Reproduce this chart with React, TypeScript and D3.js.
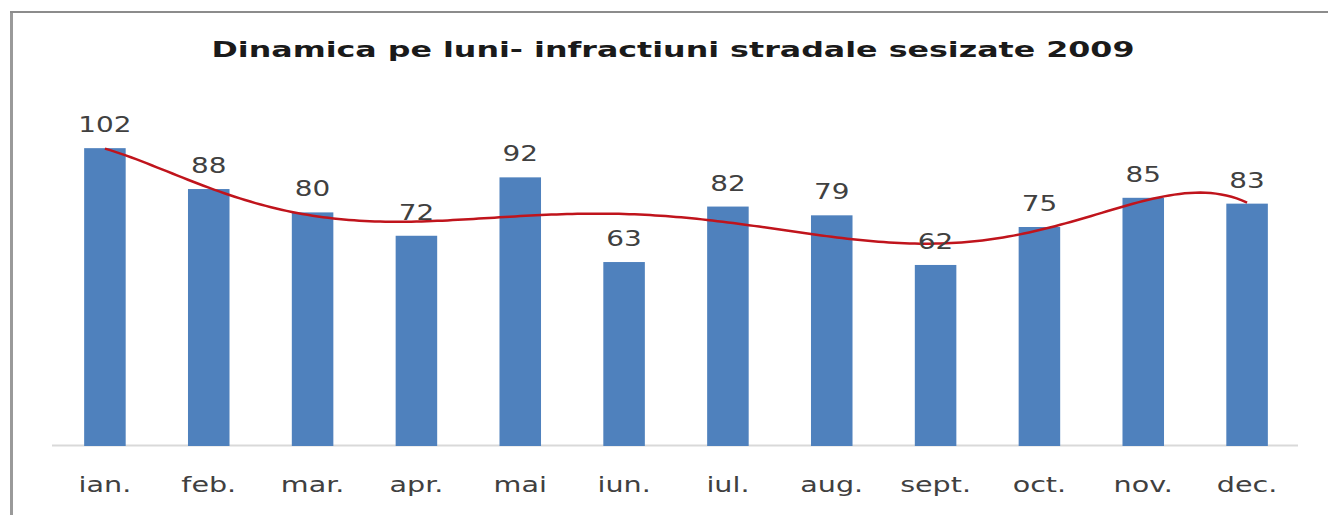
import React from "react";
import * as d3 from "d3";

const months = ["ian.", "feb.", "mar.", "apr.", "mai", "iun.", "iul.", "aug.", "sept.", "oct.", "nov.", "dec."];
const values = [102, 88, 80, 72, 92, 63, 82, 79, 62, 75, 85, 83];
const title = "Dinamica pe luni- infractiuni stradale sesizate 2009";
const trendOrder = 6;

const W = 1328;
const H = 515;

function polyfit(xs: number[], ys: number[], order: number) {
  const n = order + 1;
  const A: number[][] = Array.from({ length: n }, () => new Array(n + 1).fill(0));
  xs.forEach((x, k) => {
    const pw: number[] = [];
    for (let i = 0; i < 2 * n; i++) pw.push(Math.pow(x, i));
    for (let i = 0; i < n; i++) {
      for (let j = 0; j < n; j++) A[i][j] += pw[i + j];
      A[i][n] += pw[i] * ys[k];
    }
  });
  for (let c = 0; c < n; c++) {
    let p = c;
    for (let r = c + 1; r < n; r++) if (Math.abs(A[r][c]) > Math.abs(A[p][c])) p = r;
    [A[c], A[p]] = [A[p], A[c]];
    for (let r = 0; r < n; r++) {
      if (r === c) continue;
      const f = A[r][c] / A[c][c];
      for (let k = c; k <= n; k++) A[r][k] -= f * A[c][k];
    }
  }
  return A.map((row, i) => row[n] / row[i]);
}

export default function App() {
  const x = d3.scaleBand<string>().domain(months).range([53, 1299]).paddingInner(0.6).paddingOuter(0.3);
  const y = d3.scaleLinear().domain([0, 120]).range([446, 95.6]);
  const step = x.step();
  const c0 = (x(months[0]) as number) + x.bandwidth() / 2;

  // Excel-style polynomial trendline computed from the data
  const norm = (i: number) => (i - 6.5) / 5.5;
  const coef = polyfit(values.map((_, i) => norm(i + 1)), values, trendOrder);
  const evalP = (t: number) => coef.reduce((s, c, i) => s + c * Math.pow(t, i), 0);
  const samples = d3.range(1, 12.0001, 0.05);
  const line = d3
    .line<number>()
    .x((i) => c0 + (i - 1) * step)
    .y((i) => y(evalP(norm(i))))
    .curve(d3.curveLinear);

  const sx = 1.36;
  const font = "DejaVu Sans, Verdana, sans-serif";

  return (
    <svg width={W} height={H} style={{ position: "absolute", left: 0, top: 0, background: "#fff" }}>
      <line x1={11.5} x2={11.5} y1={11} y2={H} stroke="#9a9a9a" strokeWidth={3} />
      <line x1={10} x2={W} y1={12} y2={12} stroke="#8c8c8c" strokeWidth={2} />
      <text
        x={673}
        y={57}
        textAnchor="middle"
        fontFamily={font}
        fontWeight="bold"
        fontSize={21}
        fill="#1a1a1a"
        textLength={923}
        lengthAdjust="spacingAndGlyphs"
      >
        {title}
      </text>
      <line x1={52} x2={1298} y1={445.5} y2={445.5} stroke="#d9d9d9" strokeWidth={2} />
      {values.map((v, i) => (
        <rect
          key={months[i]}
          x={x(months[i])}
          y={y(v)}
          width={x.bandwidth()}
          height={y(0) - y(v)}
          fill="#4f81bd"
        />
      ))}
      <path d={line(samples) || ""} fill="none" stroke="#c0141c" strokeWidth={2.5} />
      {values.map((v, i) => (
        <text
          key={"v" + i}
          transform={`translate(${(x(months[i]) as number) + x.bandwidth() / 2},${y(v) - 16}) scale(${sx},1)`}
          textAnchor="middle"
          fontFamily={font}
          fontSize={20.5}
          fill="#404040"
        >
          {v}
        </text>
      ))}
      {months.map((m) => (
        <text
          key={m}
          transform={`translate(${(x(m) as number) + x.bandwidth() / 2},${492}) scale(${sx - 0.03},1)`}
          textAnchor="middle"
          fontFamily={font}
          fontSize={21.5}
          fill="#404040"
        >
          {m}
        </text>
      ))}
    </svg>
  );
}
